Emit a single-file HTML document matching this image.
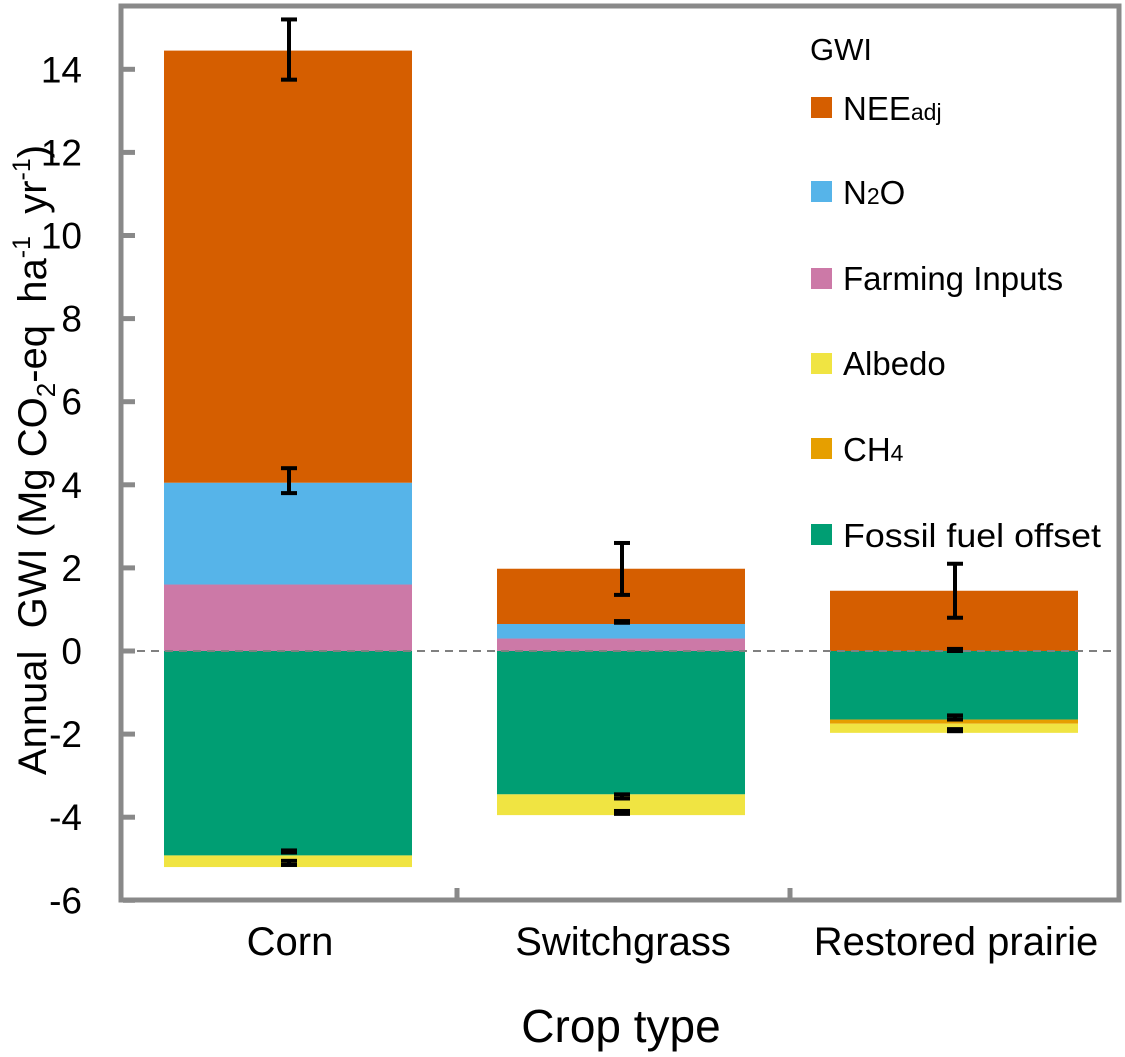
<!DOCTYPE html>
<html><head><meta charset="utf-8"><style>
html,body{margin:0;padding:0;background:#fff;}
svg{display:block;font-family:"Liberation Sans",sans-serif;}
</style></head><body>
<svg id="chart" width="1125" height="1057"></svg>
<script>
const categories = ["Corn", "Switchgrass", "Restored prairie"];
const seriesNames = ["NEE", "N2O", "Farming Inputs", "Albedo", "CH4", "Fossil fuel offset"];
const positiveSeries = { farming: [1.6, 0.3, 0], n2o: [2.45, 0.35, 0], nee: [10.4, 1.33, 1.45] };
const negativeSeries = { fossil: [-4.92, -3.45, -1.65], ch4: [0, 0, -0.1], albedo: [-0.28, -0.5, -0.22] };
const errLow = [[13.75, 3.8, -4.85, -5.15], [1.35, 0.68, -3.55, -3.92], [0.8, 0.0, -1.65, -1.93]];
const errHigh = [[15.2, 4.4, -4.8, -5.05], [2.6, 0.72, -3.45, -3.85], [2.1, 0.05, -1.55, -1.88]];
const yTicks = [-6, -4, -2, 0, 2, 4, 6, 8, 10, 12, 14];

const colors = { nee: "#d55e00", n2o: "#56b4e9", farming: "#cc79a7", albedo: "#f0e442", ch4: "#e69f00", fossil: "#009e73" };
const NS = "http://www.w3.org/2000/svg";
const svg = document.getElementById("chart");
const Y0 = 651, PPU = 41.55;
function y(v) { return Y0 - v * PPU; }
const barLeft = [164, 497, 830], barW = 248;
function mk(tag, attrs, parent) {
  const e = document.createElementNS(NS, tag);
  for (const k in attrs) e.setAttribute(k, attrs[k]);
  (parent || svg).appendChild(e);
  return e;
}
categories.forEach((c, i) => {
  let base = 0;
  ["farming", "n2o", "nee"].forEach(k => {
    const v = positiveSeries[k][i];
    if (v > 0) {
      const r = mk("rect", { x: barLeft[i], y: y(base + v), width: barW, height: v * PPU, fill: colors[k] });
      
      
    }
    base += v;
  });
  base = 0;
  ["fossil", "ch4", "albedo"].forEach(k => {
    const v = negativeSeries[k][i];
    if (v < 0) {
      const r = mk("rect", { x: barLeft[i], y: y(base), width: barW, height: -v * PPU, fill: colors[k] });
      
      
    }
    base += v;
  });
});
const zl = mk("line", { x1: 123, x2: 1120, y1: y(0), y2: y(0), stroke: "#808080", "stroke-width": 2, "stroke-dasharray": "8,6" });


categories.forEach((c, i) => {
  const cx = barLeft[i] + barW / 2 + 1;
  errLow[i].forEach((lo, j) => {
    const hi = errHigh[i][j];
    const g = mk("g", {});
    
    
    mk("line", { x1: cx, x2: cx, y1: y(hi), y2: y(lo), stroke: "#000", "stroke-width": 4 }, g);
    mk("line", { x1: cx - 8, x2: cx + 8, y1: y(hi), y2: y(hi), stroke: "#000", "stroke-width": 4 }, g);
    mk("line", { x1: cx - 8, x2: cx + 8, y1: y(lo), y2: y(lo), stroke: "#000", "stroke-width": 4 }, g);
  });
});
const fr = mk("rect", { x: 121, y: 6, width: 998, height: 894, fill: "none", stroke: "#898989", "stroke-width": 5 });


yTicks.forEach(t => {
  const l = mk("line", { x1: 123, x2: 135, y1: y(t), y2: y(t), stroke: "#898989", "stroke-width": 5 });
  
  
  const tx = mk("text", { x: 82, y: y(t) + 13, "text-anchor": "end", "font-size": 37, fill: "#000" });
  tx.textContent = t;
  
  
});
[457, 790].forEach(xx => {
  const l = mk("line", { x1: xx, x2: xx, y1: 888, y2: 900, stroke: "#898989", "stroke-width": 5 });
  
  
});
categories.forEach((c, i) => {
  const t = mk("text", { x: barLeft[i] + barW / 2 + 2, y: 955, "text-anchor": "middle", "font-size": 40, fill: "#000" });
  t.textContent = c;
  
  
});
</script>
<svg style="position:absolute;left:0;top:0" width="1125" height="1057">
<text x="621" y="1042" text-anchor="middle" font-size="46" font-family="Liberation Sans, sans-serif">Crop type</text>
<text transform="translate(46,460) rotate(-90)" text-anchor="middle" font-size="40" font-family="Liberation Sans, sans-serif" xml:space="preserve">Annual  GWI (Mg CO<tspan font-size="26" dy="9">2</tspan><tspan dy="-9">-eq  ha</tspan><tspan font-size="25" dy="-16">-1</tspan><tspan dy="16">  yr</tspan><tspan font-size="25" dy="-16">-1</tspan><tspan dy="16">)</tspan></text>
<g font-family="Liberation Sans, sans-serif" font-size="33">
<text x="810" y="60" font-size="31">GWI</text>
<g><rect x="811" y="97" width="21" height="21" fill="#d55e00"/><text x="843" y="120">NEE<tspan font-size="23">adj</tspan></text></g>
<g><rect x="811" y="181" width="21" height="21" fill="#56b4e9"/><text x="843" y="204">N<tspan font-size="23">2</tspan>O</text></g>
<g><rect x="811" y="268" width="21" height="21" fill="#cc79a7"/><text x="843" y="290">Farming Inputs</text></g>
<g><rect x="811" y="353" width="21" height="21" fill="#f0e442"/><text x="843" y="375">Albedo</text></g>
<g><rect x="811" y="438" width="21" height="21" fill="#e69f00"/><text x="843" y="461">CH<tspan font-size="23">4</tspan></text></g>
<g><rect x="811" y="524" width="21" height="21" fill="#009e73"/><text x="843" y="547" textLength="258" lengthAdjust="spacingAndGlyphs">Fossil fuel offset</text></g>
</g>
</svg>
</body></html>
